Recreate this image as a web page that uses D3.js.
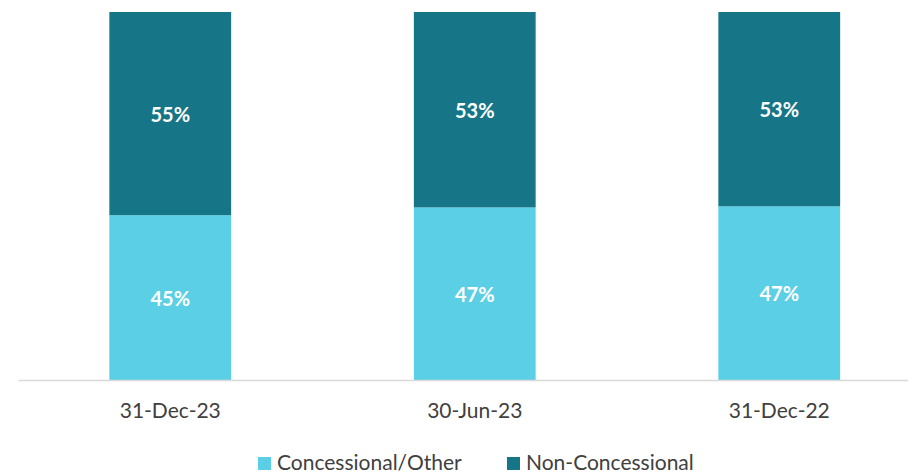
<!DOCTYPE html>
<html><head><meta charset="utf-8">
<script src="https://cdn.jsdelivr.net/npm/d3@7"></script>
<style>body{margin:0;background:#fff;}svg{display:block;}</style>
</head><body>
<svg id="c" width="908" height="474"></svg>
<script>
const categories = ["31-Dec-23", "30-Jun-23", "31-Dec-22"];
const concessional = [44.8, 46.9, 47.2];
const nonConcessional = [55.2, 53.1, 52.8];
const concessionalLabels = ["45%", "47%", "47%"];
const nonConcessionalLabels = ["55%", "53%", "53%"];
const seriesNames = ["Concessional/Other", "Non-Concessional"];
const colors = ["#5BCFE6", "#177588"];

(function () {
const svg = d3.select("#c");
const font = "Lato, Carlito, Calibri, sans-serif";
const pLeft = 18, pRight = 931.5, pTop = 12, pBottom = 380;

const x = d3.scaleBand().domain(categories).range([pLeft, pRight]).paddingInner(0.6).paddingOuter(0.3);
const y = d3.scaleLinear().domain([0, 100]).range([pBottom, pTop]);

const rows = categories.map((c, i) => ({cat: c, a: concessional[i], b: nonConcessional[i], la: concessionalLabels[i], lb: nonConcessionalLabels[i]}));

svg.selectAll("rect.a").data(rows).join("rect").attr("class", "a")
  .attr("x", d => x(d.cat)).attr("width", x.bandwidth())
  .attr("y", d => y(d.a)).attr("height", d => y(0) - y(d.a)).attr("fill", colors[0]);
svg.selectAll("rect.b").data(rows).join("rect").attr("class", "b")
  .attr("x", d => x(d.cat)).attr("width", x.bandwidth())
  .attr("y", d => y(d.a + d.b)).attr("height", d => y(d.a) - y(d.a + d.b)).attr("fill", colors[1]);

svg.selectAll("text.la").data(rows).join("text").attr("class", "la")
  .attr("x", d => x(d.cat) + x.bandwidth() / 2).attr("y", d => y(d.a / 2))
  .attr("text-anchor", "middle").attr("dominant-baseline", "central")
  .attr("font-family", font).attr("font-weight", "bold").attr("font-size", 20).attr("fill", "#fff")
  .text(d => d.la);
svg.selectAll("text.lb").data(rows).join("text").attr("class", "lb")
  .attr("x", d => x(d.cat) + x.bandwidth() / 2).attr("y", d => y(d.a + d.b / 2))
  .attr("text-anchor", "middle").attr("dominant-baseline", "central")
  .attr("font-family", font).attr("font-weight", "bold").attr("font-size", 20).attr("fill", "#fff")
  .text(d => d.lb);

const ax = svg.append("g").attr("transform", `translate(0,${pBottom})`)
  .call(d3.axisBottom(x).tickSize(0));
ax.select(".domain").attr("stroke", "#d9d9d9").attr("stroke-width", 1.5);
ax.selectAll("text").attr("y", 31).attr("dy", "0.35em")
  .attr("font-family", font).attr("font-size", 21).attr("fill", "#404040");

const legendX = [258, 507];
const lg = svg.append("g");
seriesNames.forEach((n, i) => {
  lg.append("rect").attr("x", legendX[i]).attr("y", 457).attr("width", 13).attr("height", 13).attr("fill", colors[i]);
  lg.append("text").attr("x", legendX[i] + 19).attr("y", 463).attr("dy", "0.35em")
    .attr("font-family", font).attr("font-size", 21).attr("fill", "#404040").text(n);
});
})();
</script>
</body></html>
